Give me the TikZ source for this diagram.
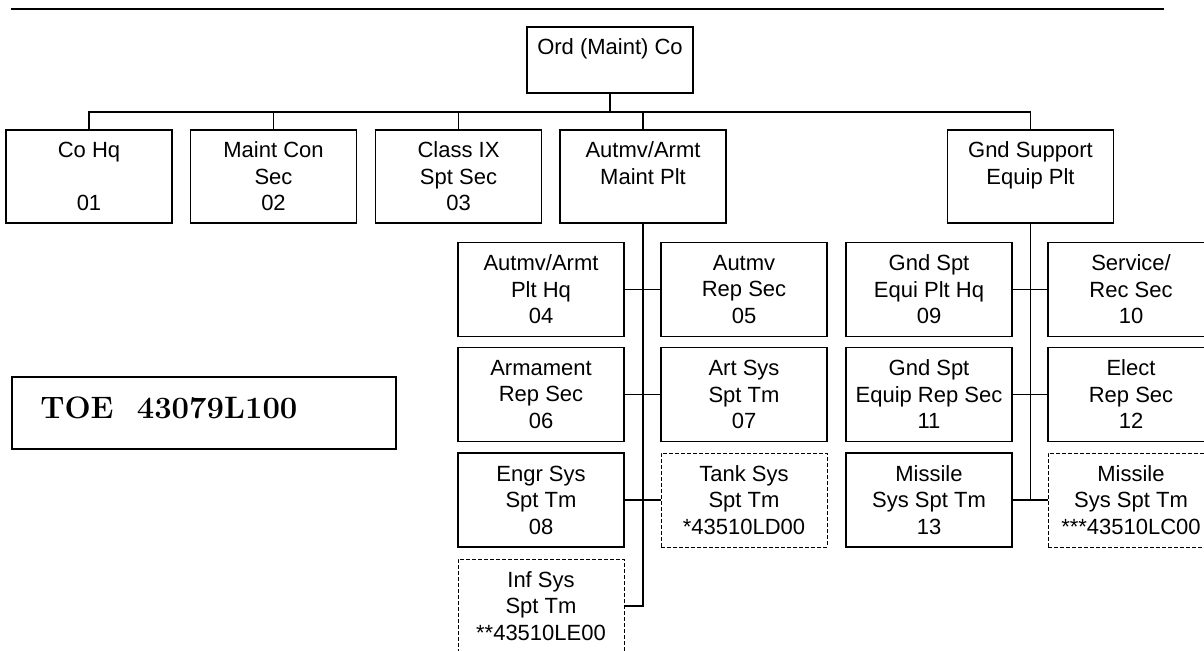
\documentclass[tikz,border=0pt]{standalone}
\usepackage{fontspec}
\setsansfont{Liberation Sans}
\tikzset{
  sc/.style={x=.5pt,y=-.5pt,line width=.6pt},
  unit/.style={draw,minimum width=83pt,minimum height=46.5pt,inner sep=0pt,align=center,
    font=\sffamily\fontsize{11}{13.25}\selectfont},
  tm/.style={unit,minimum height=47pt},
  det/.style={tm,dash pattern=on 2pt off 1pt,line width=.45pt},
  bus/.style={line width=.8pt}
}

\begin{document}
\begin{tikzpicture}[sc]
  \useasboundingbox (0,0) rectangle (1204,651);
  \draw[line width=1.1pt] (11,9) -- (1164,9);
  % company and platoons
  \node[unit,minimum height=33pt] (ord) at (610,60) {Ord (Maint) Co\\~};
  \node[unit] (cohq) at (89,176.5) {Co Hq\\~\\01};
  \node[unit] (mcon) at (273.5,176.5) {Maint Con\\Sec\\02};
  \node[unit] (cl9) at (458.5,176.5) {Class IX\\Spt Sec\\03};
  \node[unit] (aut) at (643,176.5) {Autmv/Armt\\Maint Plt\\~};
  \node[unit] (gnd) at (1030.5,176.5) {Gnd Support\\Equip Plt\\~};
  % autmv/armt sections
  \node[tm] (s04) at (541,289.5) {Autmv/Armt\\Plt Hq\\04};
  \node[tm] (s05) at (744,289.5) {Autmv\\Rep Sec\\05};
  \node[tm] (s06) at (541,394.5) {Armament\\Rep Sec\\06};
  \node[tm] (s07) at (744,394.5) {Art Sys\\Spt Tm\\07};
  \node[tm] (s08) at (541,500) {Engr Sys\\Spt Tm\\08};
  \node[det] (tank) at (744,500) {Tank Sys\\Spt Tm\\*43510LD00};
  \node[det] (inf) at (541,606) {Inf Sys\\Spt Tm\\**43510LE00};
  % gnd spt sections
  \node[tm] (s09) at (929,289.5) {Gnd Spt\\Equi Plt Hq\\09};
  \node[tm] (s10) at (1131,289.5) {Service/\\Rec Sec\\10};
  \node[tm] (s11) at (929,394.5) {Gnd Spt\\Equip Rep Sec\\11};
  \node[tm] (s12) at (1131,394.5) {Elect\\Rep Sec\\12};
  \node[tm] (s13) at (929,500) {Missile\\Sys Spt Tm\\13};
  \node[det] (msl) at (1131,500) {Missile\\Sys Spt Tm\\***43510LC00};

  \node[draw,line width=1.1pt,minimum width=192pt,minimum height=36pt] (toe) at (204,413) {};
  \node[anchor=west,font=\rmfamily\bfseries\fontsize{15.5}{18}\selectfont] (toelbl) at (33,408) {TOE\ \ 43079L100};

  % connectors
  \coordinate (top) at (610,112);
  \draw (ord.south) -- (top);
  \draw (cohq.north) -- (cohq.north |- top) -- (gnd.north |- top) -- (gnd.north);
  \foreach \n in {mcon,cl9,aut}{\draw (\n.north) -- (\n.north |- top);}
  \draw[bus] (aut.south) -- (aut.south |- inf.east) -- (inf.east);
  \draw[bus] (gnd.south) -- (gnd.south |- s13.east);
  \foreach \a/\b in {s04/s05,s06/s07,s08/tank,s09/s10,s11/s12,s13/msl}{\draw (\a.east) -- (\b.west);}
\end{tikzpicture}
\end{document}
